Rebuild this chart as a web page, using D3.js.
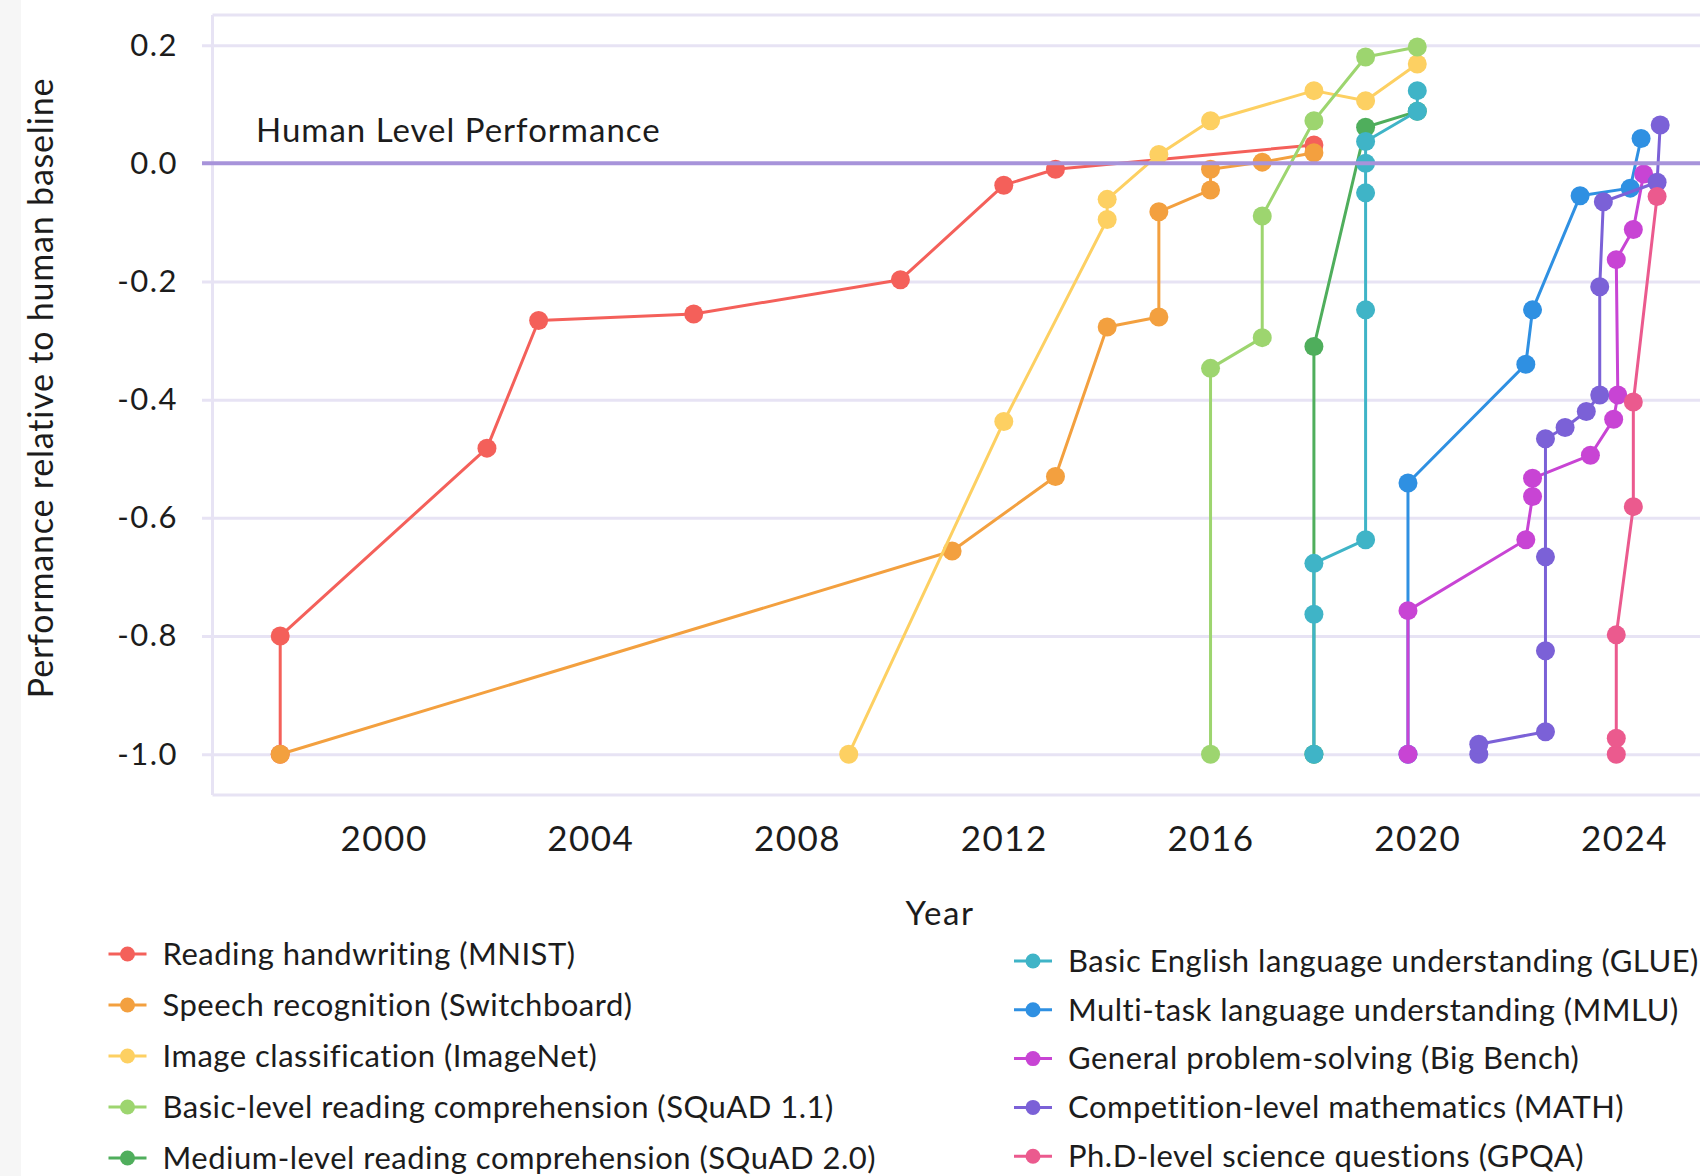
<!DOCTYPE html>
<html><head><meta charset="utf-8">
<script src="https://cdn.jsdelivr.net/npm/d3@7"></script>
<style>
body{margin:0;background:#fff;}
svg{display:block;}
text{font-family:Lato,"Noto Sans",sans-serif;fill:#1c1c1c;}
</style>
</head><body>
<svg id="chart" width="1708" height="1176"></svg>
<script>
// ---- data ----
const seriesNames = [
  "Reading handwriting (MNIST)",
  "Speech recognition (Switchboard)",
  "Image classification (ImageNet)",
  "Basic-level reading comprehension (SQuAD 1.1)",
  "Medium-level reading comprehension (SQuAD 2.0)",
  "Basic English language understanding (GLUE)",
  "Multi-task language understanding (MMLU)",
  "General problem-solving (Big Bench)",
  "Competition-level mathematics (MATH)",
  "Ph.D-level science questions (GPQA)"
];
const mnistYears   = [1998, 1998, 2002, 2003, 2006, 2010, 2012, 2013, 2018];
const mnistValues  = [-1.0, -0.8, -0.482, -0.266, -0.255, -0.197, -0.037, -0.01, 0.031];
const speechYears  = [1998, 2011, 2013, 2014, 2015, 2015, 2016, 2016, 2017, 2018];
const speechValues = [-1.0, -0.656, -0.53, -0.277, -0.26, -0.082, -0.045, -0.01, 0.002, 0.018];
const imagenetYears  = [2009, 2012, 2014, 2014, 2015, 2016, 2018, 2019, 2020];
const imagenetValues = [-1.0, -0.437, -0.095, -0.061, 0.015, 0.072, 0.123, 0.106, 0.168];
const squad1Years  = [2016, 2016, 2017, 2017, 2018, 2019, 2020];
const squad1Values = [-1.0, -0.347, -0.295, -0.089, 0.072, 0.18, 0.197];
const squad2Years  = [2018, 2018, 2019, 2020];
const squad2Values = [-1.0, -0.31, 0.061, 0.088];
const glueYears  = [2018, 2018, 2018, 2019, 2019, 2019, 2019, 2019, 2020, 2020];
const glueValues = [-1.0, -0.763, -0.677, -0.637, -0.248, -0.05, 0.0, 0.037, 0.088, 0.123];
const mmluYears  = [2019.82, 2019.82, 2022.1, 2022.23, 2023.15, 2024.12, 2024.33];
const mmluValues = [-1.0, -0.541, -0.34, -0.248, -0.055, -0.042, 0.042];
const bigbenchYears  = [2019.82, 2019.82, 2022.1, 2022.23, 2022.23, 2023.35, 2023.8, 2023.88, 2023.85, 2024.18, 2024.38];
const bigbenchValues = [-1.0, -0.757, -0.637, -0.564, -0.533, -0.494, -0.433, -0.392, -0.163, -0.112, -0.018];
const mathYears  = [2021.19, 2021.19, 2022.48, 2022.48, 2022.48, 2022.48, 2022.86, 2023.27, 2023.53, 2023.53, 2023.6, 2024.64, 2024.7];
const mathValues = [-1.0, -0.983, -0.962, -0.825, -0.666, -0.466, -0.447, -0.42, -0.392, -0.209, -0.065, -0.032, 0.065];
const gpqaYears  = [2023.85, 2023.85, 2023.85, 2024.18, 2024.18, 2024.64];
const gpqaValues = [-1.0, -0.973, -0.798, -0.581, -0.404, -0.056];

const seriesYears  = [mnistYears, speechYears, imagenetYears, squad1Years, squad2Years, glueYears, mmluYears, bigbenchYears, mathYears, gpqaYears];
const seriesValues = [mnistValues, speechValues, imagenetValues, squad1Values, squad2Values, glueValues, mmluValues, bigbenchValues, mathValues, gpqaValues];

const yTicks = [0.2, 0.0, -0.2, -0.4, -0.6, -0.8, -1.0];
const xTicks = [2000, 2004, 2008, 2012, 2016, 2020, 2024];
const humanLevel = 0.0;

// ---- styles ----
const colors = ["#f4605a", "#f3a03f", "#fdd062", "#9dd56f", "#4fae5c", "#3fb4c7", "#2f90e2", "#c844d4", "#7b61d7", "#eb5a8e"];
const gridColor = "#e7e3f4";
const humanColor = "#a793da";

const svg = d3.select("#chart");
svg.append("rect").attr("x", 0).attr("y", 0).attr("width", 21).attr("height", 1176).attr("fill", "#f6f6f6");

const x = d3.scaleLinear().domain([1996.69, 2025.47]).range([212.5, 1700]);
const y = d3.scaleLinear().domain([-1.069, 0.251]).range([795, 15]);

// frame
const frame = svg.append("g").attr("stroke", gridColor).attr("stroke-width", 3).attr("fill", "none");
frame.append("line").attr("x1", x.range()[0]).attr("x2", x.range()[0]).attr("y1", y.range()[1]).attr("y2", y.range()[0]);
frame.append("line").attr("x1", x.range()[0]).attr("x2", x.range()[1]).attr("y1", y.range()[1]).attr("y2", y.range()[1]);
frame.append("line").attr("x1", x.range()[0]).attr("x2", x.range()[1]).attr("y1", y.range()[0]).attr("y2", y.range()[0]);

// y axis with gridlines
const gy = svg.append("g").attr("transform", "translate(202,0)")
  .call(d3.axisLeft(y).tickValues(yTicks).tickSize(-(1700 - 202)).tickPadding(24).tickFormat(d => d.toFixed(1)));
gy.select(".domain").remove();
gy.selectAll(".tick line").attr("stroke", d => d === humanLevel ? "none" : gridColor).attr("stroke-width", 3);
gy.selectAll(".tick text").attr("font-size", 31).attr("letter-spacing", 1.5).attr("fill", "#1c1c1c").attr("font-family", "Lato");

// x axis
const gx = svg.append("g").attr("transform", "translate(0,795)")
  .call(d3.axisBottom(x).tickValues(xTicks).tickSize(0).tickPadding(31).tickFormat(d3.format("d")));
gx.select(".domain").remove();
gx.selectAll(".tick text").attr("font-size", 35).attr("letter-spacing", 1.5).attr("fill", "#1c1c1c").attr("font-family", "Lato");

// axis titles
svg.append("text").attr("x", 940).attr("y", 925).attr("text-anchor", "middle").attr("font-size", 33).attr("letter-spacing", 1.5).text("Year");
svg.append("text").attr("transform", "translate(53,388) rotate(-90)").attr("text-anchor", "middle").attr("font-size", 34).attr("letter-spacing", 0.8)
  .text("Performance relative to human baseline");

// series
const line = d3.line().x(d => x(d[0])).y(d => y(d[1]));
seriesNames.forEach((name, i) => {
  const pts = seriesYears[i].map((yr, j) => [yr, seriesValues[i][j]]);
  const g = svg.append("g");
  g.append("path").datum(pts).attr("d", line).attr("fill", "none").attr("stroke", colors[i]).attr("stroke-width", 3).attr("stroke-linejoin", "round");
  g.selectAll("circle").data(pts).join("circle").attr("cx", d => x(d[0])).attr("cy", d => y(d[1])).attr("r", 9.5).attr("fill", colors[i]);
});

// human level line
svg.append("line").attr("x1", 202).attr("x2", 1700).attr("y1", y(humanLevel)).attr("y2", y(humanLevel))
  .attr("stroke", humanColor).attr("stroke-width", 4);
svg.append("text").attr("x", 256).attr("y", 142).attr("font-size", 33).attr("letter-spacing", 1).text("Human Level Performance");

// legend
seriesNames.forEach((name, i) => {
  const col = i < 5 ? 0 : 1;
  const row = i % 5;
  const cx = col === 0 ? 127.5 : 1033;
  const cy = col === 0 ? 954 + row * 51 : 961 + row * 48.8;
  const g = svg.append("g");
  g.append("line").attr("x1", cx - 19).attr("x2", cx + 19).attr("y1", cy).attr("y2", cy).attr("stroke", colors[i]).attr("stroke-width", 3);
  g.append("circle").attr("cx", cx).attr("cy", cy).attr("r", 7.5).attr("fill", colors[i]);
  g.append("text").attr("x", cx + 35).attr("y", cy).attr("dy", "0.35em").attr("font-size", 31).attr("letter-spacing", 0.5).text(name);
});
</script>
</body></html>
